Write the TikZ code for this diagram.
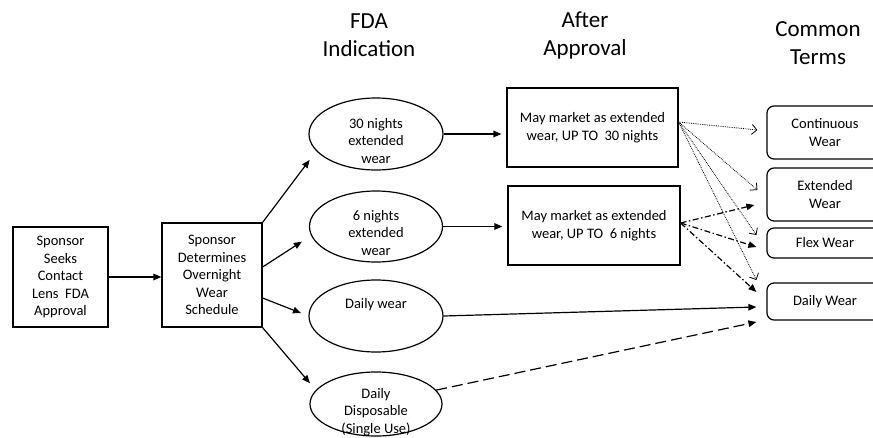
\documentclass[tikz,border=0pt]{standalone}
\usepackage{fontspec}
\setmainfont{Carlito}
\usetikzlibrary{shapes.geometric,arrows.meta}

\begin{document}
\begin{tikzpicture}[x=1pt,y=-1pt,
        box/.style={draw,line width=1.2pt,inner sep=0pt,align=center,font=\fontsize{14.5}{17.5}\selectfont},
        ell/.style={draw,ellipse,line width=1.2pt,inner sep=0pt},
        txt/.style={align=center,font=\fontsize{14.5}{17.5}\selectfont},
        term/.style={draw,rounded corners=7pt,line width=1.2pt,inner sep=0pt,minimum width=116pt,align=center,font=\fontsize{14.5}{17.5}\selectfont},
        head/.style={align=center,font=\fontsize{23}{28}\selectfont},
        arr/.style={line width=1.2pt,-{Triangle[length=8pt,width=6.5pt]}},
        dotarr/.style={line width=0.8pt,densely dotted,-{Straight Barb[length=5pt,width=10pt]}},
        dasharr/.style={line width=1.2pt,dash pattern=on 6pt off 2.5pt on 1.5pt off 2.5pt,-{Triangle[length=8pt,width=6.5pt]}}]
        \useasboundingbox (0,0) rectangle (873,437);
        \clip (0,0) rectangle (873,437);
        \node[head] (hfda) at (369,35) {FDA\\Indication};
        \node[head] (happ) at (585,35) {After\\Approval};
        \node[head] (hterm) at (818,43) {Common\\Terms};
        \node[box,minimum width=95pt,minimum height=100pt] (seek) at (60.5,277) {Sponsor\\Seeks\\Contact\\Lens~ FDA\\Approval};
        \node[box,minimum width=100pt,minimum height=104pt] (det) at (212,275) {Sponsor\\Determines\\Overnight\\Wear\\Schedule};
        \node[ell,minimum width=134pt,minimum height=72pt] (e30) at (376,134) {};
        \node[txt] (t30) at (376,141) {30 nights\\extended\\wear};
        \node[ell,minimum width=133pt,minimum height=71pt] (e6) at (376,226.5) {};
        \node[txt] (t6) at (376,233) {6 nights\\extended\\wear};
        \node[ell,minimum width=134pt,minimum height=72pt] (ed) at (376,316) {};
        \node[txt] (td) at (376,305) {Daily wear};
        \node[ell,minimum width=132pt,minimum height=64pt] (edisp) at (376,404) {};
        \node[txt] (tdisp) at (376,412) {Daily\\Disposable\\(Single Use)};
        \node[box,minimum width=171pt,minimum height=79pt] (b30) at (592.5,127.5) {May market as extended\\wear, UP TO~ 30 nights};
        \node[box,minimum width=172pt,minimum height=79pt] (b6) at (594,225.5) {May market as extended\\wear, UP TO~ 6 nights};
        \node[term,minimum height=53pt] (cont) at (825,132.5) {Continuous\\Wear};
        \node[term,minimum height=53pt] (ext) at (825,194.5) {Extended\\Wear};
        \node[term,minimum height=30pt] (flex) at (825,243) {Flex Wear};
        \node[term,minimum height=37pt] (dw) at (825,301.5) {Daily Wear};
        \draw[arr] (seek.east) -- (seek.east -| det.west);
        \draw[arr,shorten >=11pt] (det.north east) -- (e30.196);
        \draw[arr,shorten >=11pt] ([yshift=8pt]det.east) -- (e6.188);
        \draw[arr,shorten >=8pt] ([yshift=-23pt]det.east) -- (ed.west);
        \draw[arr,shorten >=9pt] (det.south east) -- (edisp.167);
        \draw[arr,shorten >=5pt] (e30.east) -- (e30.east -| b30.west);
        \draw[arr,shorten >=5pt] (e6.east) -- (e6.east -| b6.west);
        \draw[arr] (ed.east) -- ([xshift=-10pt,yshift=-5.5pt]dw.west);
        \draw[arr,dash pattern=on 11pt off 5pt] (edisp.13) -- ([xshift=-10pt,yshift=-20.5pt]dw.west);
        \draw[dotarr] ([yshift=5.5pt]b30.east) -- ([xshift=-9pt,yshift=2.5pt]cont.west);
        \draw[dotarr] ([yshift=5.5pt]b30.east) -- ([xshift=-9pt,yshift=4.5pt]ext.west);
        \draw[dotarr] ([yshift=5.5pt]b30.east) -- ([xshift=-10pt,yshift=8pt]flex.west);
        \draw[dotarr] ([yshift=5.5pt]b30.east) -- ([xshift=-10pt,yshift=21.5pt]dw.west);
        \draw[dasharr] ([yshift=2.5pt]b6.east) -- ([xshift=-12pt,yshift=-10.5pt]ext.west);
        \draw[dasharr] ([yshift=2.5pt]b6.east) -- ([xshift=-10pt,yshift=-4pt]flex.west);
        \draw[dasharr] ([yshift=2.5pt]b6.east) -- ([xshift=-10pt,yshift=9.5pt]dw.west);
    \end{tikzpicture}
\end{document}
